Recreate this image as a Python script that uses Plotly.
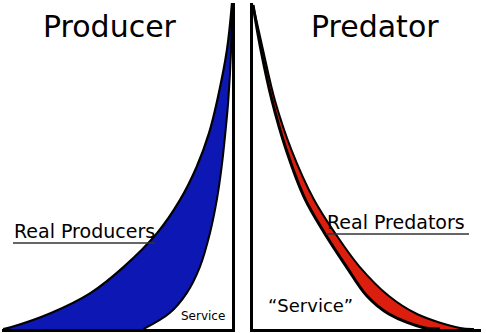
import plotly.graph_objects as go

# ---- Data ----
# Producer panel: x = position along axis (0..100), y = height (0..100)
prod_outer_x = [100, 97.8, 93.6, 90.0, 84.6, 77.4, 67.4, 52.8, 38.4, 21.3, 4.1, 0.5]
prod_outer_y = [100, 85.6, 70.2, 60.1, 49.7, 39.6, 29.4, 19.0, 11.0, 4.9, 0.6, 0]
prod_inner_x = [100, 99.6, 98.4, 97.1, 95.5, 93.4, 90.4, 86.0, 80.3, 72.9, 61.5]
prod_inner_y = [100, 85.6, 70.2, 60.1, 49.7, 39.6, 29.4, 19.0, 11.0, 4.9, 0]

# Predator panel
pred_upper_x = [0, 3.5, 8.3, 14.6, 22.8, 31.4, 40.8, 50.0, 59.6, 75.4, 82.0]
pred_upper_y = [99.4, 85.6, 70.2, 54.9, 39.9, 29.4, 19.3, 10.1, 4.6, 0.3, 0]
pred_lower_x = [0, 4.4, 9.6, 16.9, 26.6, 36.0, 46.5, 59.6, 71.9, 90.8, 96.9]
pred_lower_y = [99.4, 85.6, 70.2, 54.9, 39.9, 29.4, 19.3, 10.1, 4.6, 0.3, 0]

titles = ["Producer", "Predator"]
labels_real = ["Real Producers", "Real Predators"]
labels_service = ["Service", "\u201cService\u201d"]

BLUE = "#0C17B4"
RED = "#DC1E0E"
W, H = 486, 333
FONT = "DejaVu Sans"

def px(x):
    return x / W

def py(y):
    return 1 - y / H

fig = go.Figure()

# Producer band
fig.add_trace(go.Scatter(x=prod_inner_x, y=prod_inner_y, mode="lines",
                         line=dict(color="black", width=2, shape="spline", smoothing=1.0),
                         xaxis="x", yaxis="y", hoverinfo="skip"))
fig.add_trace(go.Scatter(x=prod_outer_x, y=prod_outer_y, mode="lines", fill="tonexty",
                         fillcolor=BLUE,
                         line=dict(color="black", width=2.2, shape="spline", smoothing=1.0),
                         xaxis="x", yaxis="y", hoverinfo="skip"))

# Predator band
fig.add_trace(go.Scatter(x=pred_lower_x, y=pred_lower_y, mode="lines",
                         line=dict(color="black", width=2, shape="spline", smoothing=1.0),
                         xaxis="x2", yaxis="y2", hoverinfo="skip"))
fig.add_trace(go.Scatter(x=pred_upper_x, y=pred_upper_y, mode="lines", fill="tonexty",
                         fillcolor=RED,
                         line=dict(color="black", width=3, shape="spline", smoothing=1.0),
                         xaxis="x2", yaxis="y2", hoverinfo="skip"))

ax_common = dict(showgrid=False, zeroline=False, showticklabels=False, ticks="",
                 showline=True, linecolor="black", linewidth=2.5, fixedrange=True)

fig.update_layout(
    width=W, height=H,
    margin=dict(l=0, r=0, t=0, b=0),
    paper_bgcolor="white", plot_bgcolor="white",
    showlegend=False, hovermode=False,
    xaxis=dict(domain=[px(2), px(232)], range=[0, 100], anchor="y", **ax_common),
    yaxis=dict(domain=[py(329), py(3)], range=[0, 100], anchor="x", side="right", **ax_common),
    xaxis2=dict(domain=[px(253), px(481)], range=[0, 100], anchor="y2", **ax_common),
    yaxis2=dict(domain=[py(329), py(3)], range=[0, 100], anchor="x2", side="left", **ax_common),
)

annotations = [
    dict(text=titles[0], x=px(110), y=py(26), font=dict(size=30, family=FONT, color="black"),
         xanchor="center", yanchor="middle"),
    dict(text=titles[1], x=px(375), y=py(26), font=dict(size=30, family=FONT, color="black"),
         xanchor="center", yanchor="middle"),
    dict(text=labels_real[0], x=px(12), y=py(231), font=dict(size=19, family=FONT, color="black"),
         xanchor="left", yanchor="middle"),
    dict(text=labels_real[1], x=px(325), y=py(222), font=dict(size=19, family=FONT, color="black"),
         xanchor="left", yanchor="middle"),
    dict(text=labels_service[0], x=px(179), y=py(316), font=dict(size=12, family=FONT, color="black"),
         xanchor="left", yanchor="middle"),
    dict(text=labels_service[1], x=px(266), y=py(305), font=dict(size=18, family=FONT, color="black"),
         xanchor="left", yanchor="middle"),
]
for a in annotations:
    a.update(xref="paper", yref="paper", showarrow=False)
fig.update_layout(annotations=annotations)

fig.update_layout(shapes=[
    dict(type="line", xref="paper", yref="paper", x0=px(13), x1=px(155), y0=py(243), y1=py(243),
         line=dict(color="#333333", width=1.3)),
    dict(type="line", xref="paper", yref="paper", x0=px(326), x1=px(469), y0=py(234), y1=py(234),
         line=dict(color="#333333", width=1.3)),
])

fig.write_html("out.html")
